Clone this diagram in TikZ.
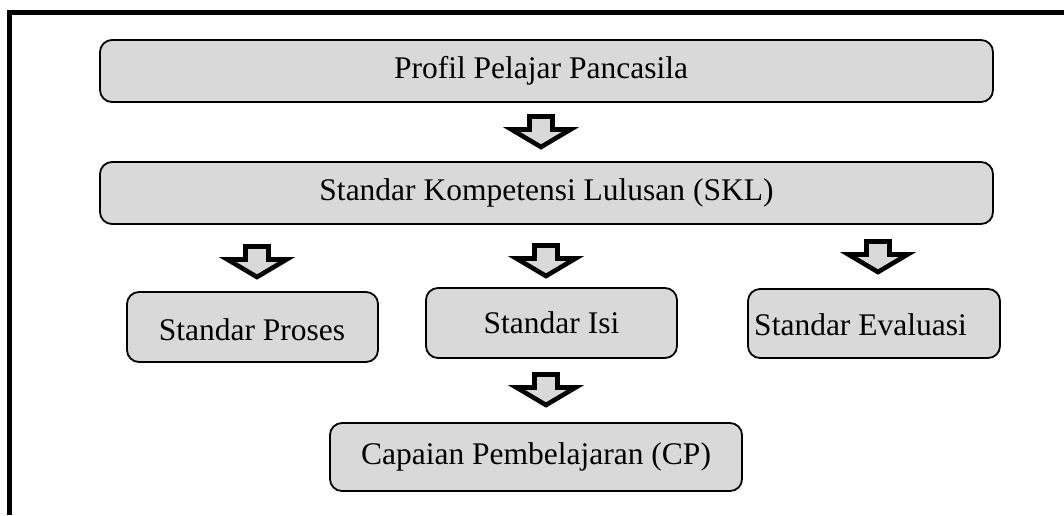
\documentclass[tikz,border=0pt]{standalone}
\usepackage{fontspec}
\setmainfont{Liberation Serif}
\definecolor{boxgrey}{HTML}{D9D9D9}
\tikzset{
  box/.style={draw=black, line width=1.8pt, fill=boxgrey, rounded corners=12pt,
    inner sep=0pt, align=center, font=\fontsize{31.5}{36}\selectfont},
  txt/.style={inner sep=0pt, font=\fontsize{31.5}{36}\selectfont},
  frameline/.style={line width=5pt},
  pics/blockarrow/.style={code={
    \draw[line width=4.6pt, fill=boxgrey, miter limit=10]
      (-11.5,0) -- (11.5,0) -- (11.5,13) -- (29.5,13) -- (0,30.5) -- (-29.5,13) -- (-11.5,13) -- cycle;
  }}
}
\begin{document}
\begin{tikzpicture}[x=1pt,y=-1pt]
\useasboundingbox (0,0) rectangle (1064,515);
\draw[frameline] (9.5,515) -- (9.5,12.5) -- (1064,12.5);

\node[box, minimum width=893pt, minimum height=62pt] (pp) at (546.5,71) {};
\node[txt] (ppt) at (541,71) {Profil Pelajar Pancasila};
\node[box, minimum width=893pt, minimum height=62pt] (skl) at (546.5,193) {Standar Kompetensi Lulusan (SKL)};
\node[box, minimum width=251pt, minimum height=70pt] (proses) at (252.5,327) {};
\node[txt] (prosest) at (252,330) {Standar Proses};
\node[box, minimum width=251pt, minimum height=70pt] (isi) at (551.5,323) {Standar Isi};
\node[box, minimum width=252pt, minimum height=69pt] (eval) at (874,323.5) {};
\node[txt, anchor=east] (evalt) at (967,325) {Standar Evaluasi};
\node[box, minimum width=412pt, minimum height=68pt] (cp) at (536,457) {Capaian Pembelajaran (CP)};

\pic (a1) at (541,116.5) {blockarrow};
\pic (a2) at (257,246.5) {blockarrow};
\pic (a3) at (546,245.5) {blockarrow};
\pic (a4) at (878,241.5) {blockarrow};
\pic (a5) at (546,374.5) {blockarrow};
\end{tikzpicture}
\end{document}
